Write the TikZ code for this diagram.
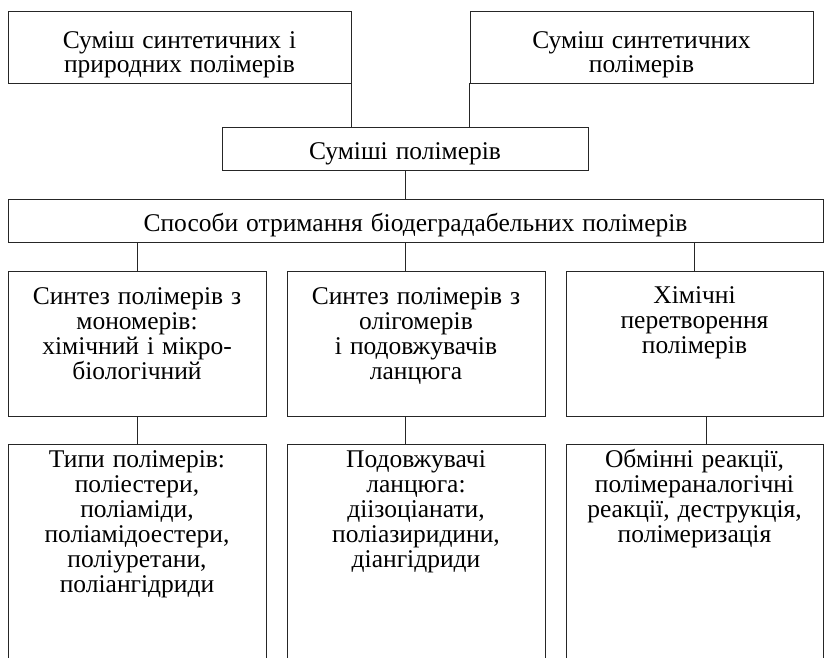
\documentclass[tikz,border=0pt]{standalone}
\usepackage{fontspec}
\setmainfont{Liberation Serif}[WordSpace=1.25]
\newcommand{\boxtext}[4]{\parbox[c][#1][t]{#2}{\centering\vspace*{#3}\rule{0pt}{23pt}#4}}
\begin{document}
\begin{tikzpicture}[x=1pt,y=-1pt,
  box/.style={draw=black!85,line width=0.8pt,inner sep=0pt,minimum width=#1,rectangle},
  link/.style={draw=black!85,line width=0.8pt},
  every node/.append style={font=\fontsize{25.5}{25}\selectfont}]
\useasboundingbox (0,0) rectangle (824,658);
% top row
\node[box=343pt,minimum height=72pt] (A) at (179.5,47) {\boxtext{72pt}{338pt}{15pt}{\baselineskip=24pt Суміш синтетичних і\\природних полімерів}};
\node[box=343pt,minimum height=72pt] (B) at (641.5,47) {\boxtext{72pt}{338pt}{15pt}{\baselineskip=24pt Суміш синтетичних\\полімерів}};
\node[box=366pt,minimum height=43pt] (C) at (405,148.5) {\boxtext{43pt}{360pt}{9pt}{Суміші полімерів}};
\node[box=815pt,minimum height=43pt] (D) at (415.5,220.5) {\boxtext{43pt}{810pt}{9.7pt}{Способи отримання біодеградабельних полімерів}};
% methods row
\node[box=258pt,minimum height=145pt] (E1) at (137,343.5) {\boxtext{145pt}{254pt}{10.5pt}{Синтез полімерів з\\мономерів:\\хімічний і мікро-\\біологічний}};
\node[box=258pt,minimum height=145pt] (E2) at (416,343.5) {\boxtext{145pt}{254pt}{10.5pt}{Синтез полімерів з\\олігомерів\\і подовжувачів\\ланцюга}};
\node[box=257pt,minimum height=145pt] (E3) at (694.5,343.5) {\boxtext{145pt}{254pt}{9.5pt}{Хімічні\\перетворення\\полімерів}};
% bottom row (open at the bottom edge)
\node[box=258pt,minimum height=256pt] (F1) at (137,572) {\boxtext{256pt}{254pt}{0pt}{Типи полімерів:\\поліестери,\\поліаміди,\\поліамідоестери,\\поліуретани,\\поліангідриди}};
\node[box=258pt,minimum height=256pt] (F2) at (416,572) {\boxtext{256pt}{254pt}{0pt}{Подовжувачі\\ланцюга:\\діізоціанати,\\поліазиридини,\\діангідриди}};
\node[box=257pt,minimum height=256pt] (F3) at (694.5,572) {\boxtext{256pt}{254pt}{0pt}{Обмінні реакції,\\полімераналогічні\\реакції, деструкція,\\полімеризація}};
% connectors
\draw[link] (A.south east) -- (A.south east |- C.north);
\draw[link] (B.south west) -- (B.south west |- C.north);
\draw[link] (C.south) -- (C.south |- D.north);
\draw[link] (E1.north |- D.south) -- (E1.north);
\draw[link] (C.south |- D.south) -- (C.south |- E2.north);
\draw[link] (E3.north |- D.south) -- (E3.north);
\draw[link] (E1.south) -- (F1.north);
\draw[link] (C.south |- E2.south) -- (C.south |- F2.north);
\draw[link] ([xshift=11.5pt]E3.south) -- ([xshift=11.5pt]E3.south |- F3.north);
\end{tikzpicture}
\end{document}
